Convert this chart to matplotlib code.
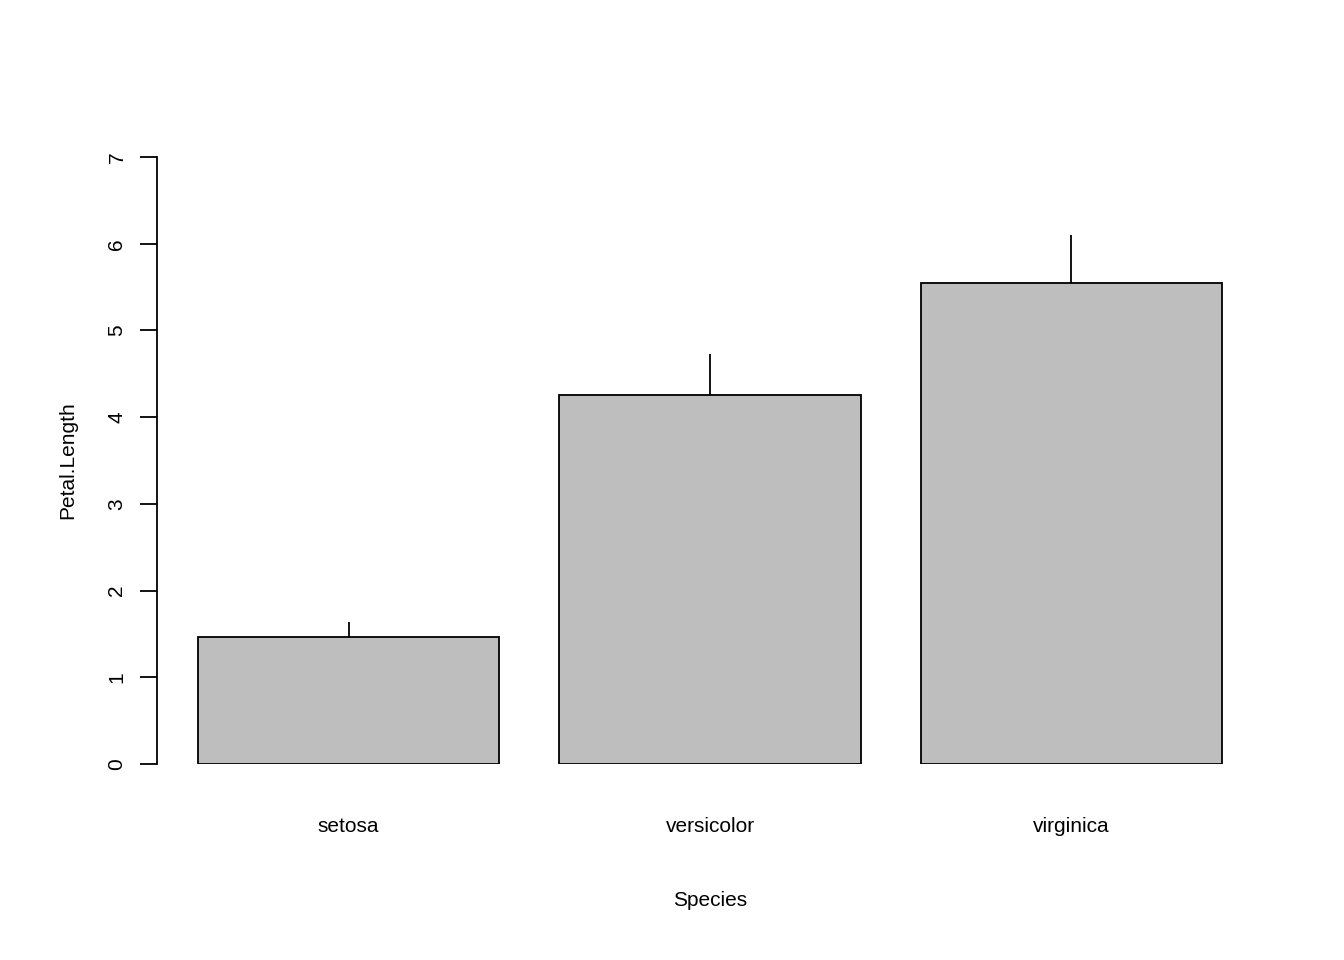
import matplotlib
matplotlib.use("Agg")
import matplotlib.pyplot as plt

species = ["setosa", "versicolor", "virginica"]
means = [1.462, 4.260, 5.552]
sds = [0.174, 0.470, 0.552]
yticks = [0, 1, 2, 3, 4, 5, 6, 7]

plt.rcParams['font.family'] = ['Liberation Sans', 'DejaVu Sans']
fig = plt.figure(figsize=(13.44, 9.6), dpi=100)
ax = fig.add_axes([157/1344, 1-764/960, (1263-157)/1344, (764-157)/960])

xs = [0.7, 1.9, 3.1]
ax.bar(xs, means, width=1.0, color="#BEBEBE", edgecolor="black", linewidth=1.3)
ax.vlines(xs, means, [m + s for m, s in zip(means, sds)], color="black", linewidth=1.3)

ax.set_xlim(0.064, 3.736)
ax.set_ylim(0, 7)
for s in ["top", "right", "bottom"]:
    ax.spines[s].set_visible(False)
ax.spines["left"].set_bounds(0, 7)
ax.spines["left"].set_linewidth(1.3)
ax.set_yticks(yticks)
ax.set_yticklabels([str(t) for t in yticks], rotation=90, va="center", fontsize=15)
ax.tick_params(axis="y", length=12, width=1.3, pad=10)
ax.set_xticks(xs)
ax.set_xticklabels(species, fontsize=15)
ax.tick_params(axis="x", length=0, pad=38)
ax.set_xlabel("Species", fontsize=15, labelpad=40)
ax.set_ylabel("Petal.Length", fontsize=15, labelpad=22)
fig.savefig("out.png", dpi=100)
